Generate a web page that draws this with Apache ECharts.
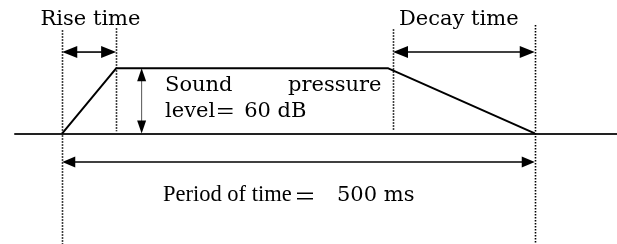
<!DOCTYPE html>
<html><head><meta charset="utf-8">
<script src="https://cdn.jsdelivr.net/npm/echarts@6/dist/echarts.min.js"></script>
<style>html,body{margin:0;padding:0;background:#fff}#c{width:617px;height:244px}</style>
</head><body><div id="c"></div>
<script>
// ---- data (time in ms, level in dB) ----
const envTime = [0, 57, 345, 500];
const envLevel = [0, 60, 60, 0];
const riseStart = 0, riseEnd = 57, decayStart = 350, periodEnd = 500;
const soundLevel = 60;
const levelArrowTime = 84;
// guide lines: [time, top level, bottom level]
const guideTimes = [riseStart, riseEnd, decayStart, periodEnd];
const guideTops = [95, 97, 96, 100];
const guideBottoms = [-102, 2, 2, -102];
// arrows: [t1, level1, t2, level2]
const arrowRise = [riseStart, 75, riseEnd, 75];
const arrowDecay = [decayStart, 75, periodEnd, 75];
const arrowPeriod = [riseStart, -26.4, periodEnd, -26.4];
const arrowLevel = [levelArrowTime, soundLevel, levelArrowTime, 0];

// ---- axis ranges ----
const timeMin = -50, timeMax = 587;
const levelMin = -102, levelMax = 123;

// ---- styles ----
const arrowStyles = [
  {headLen: 15, headWid: 12, width: 1.6, color: '#000'},
  {headLen: 15, headWid: 12, width: 1.6, color: '#000'},
  {headLen: 13, headWid: 11, width: 1.6, color: '#000'},
  {headLen: 13, headWid: 9, width: 1, color: '#555'}
];
const CENT = '"DejaVu Serif"';

const chart = echarts.init(document.getElementById('c'));

function guideItem(params, api) {
  const a = api.coord([api.value(0), api.value(1)]);
  const b = api.coord([api.value(0), api.value(2)]);
  const x = Math.round(a[0]) + 0.5;
  return {type: 'line', shape: {x1: x, y1: a[1], x2: x, y2: b[1]},
    style: {stroke: '#000', lineWidth: 1.6, lineDash: [1.5, 1.5]}};
}
function arrowItem(params, api) {
  const st = arrowStyles[params.dataIndex];
  const p1 = api.coord([api.value(0), api.value(1)]);
  const p2 = api.coord([api.value(2), api.value(3)]);
  const dx = p2[0] - p1[0], dy = p2[1] - p1[1];
  const len = Math.hypot(dx, dy);
  const ux = dx / len, uy = dy / len, nx = -uy, ny = ux;
  const hl = st.headLen, hw = st.headWid / 2;
  const head = (tip, d) => [
    [tip[0], tip[1]],
    [tip[0] - d * ux * hl + nx * hw, tip[1] - d * uy * hl + ny * hw],
    [tip[0] - d * ux * hl - nx * hw, tip[1] - d * uy * hl - ny * hw]
  ];
  return {type: 'group', children: [
    {type: 'line', shape: {x1: p1[0] + ux * hl * 0.8, y1: p1[1] + uy * hl * 0.8,
      x2: p2[0] - ux * hl * 0.8, y2: p2[1] - uy * hl * 0.8},
      style: {stroke: st.color, lineWidth: st.width}},
    {type: 'polygon', shape: {points: head(p2, 1)}, style: {fill: '#000'}},
    {type: 'polygon', shape: {points: head(p1, -1)}, style: {fill: '#000'}}
  ]};
}

chart.setOption({
  animation: false,
  backgroundColor: '#fff',
  grid: {left: 15, right: 0, top: 0, bottom: 0},
  xAxis: {type: 'value', min: timeMin, max: timeMax, splitLine: {show: false},
    axisTick: {show: false}, axisLabel: {show: false},
    axisLine: {show: true, onZero: true, lineStyle: {color: '#222', width: 2}}},
  yAxis: {type: 'value', min: levelMin, max: levelMax, show: false, splitLine: {show: false}},
  series: [
    {type: 'custom', renderItem: guideItem, clip: false, silent: true,
      data: guideTimes.map((t, i) => [t, guideTops[i], guideBottoms[i]]),
      encode: {x: 0, y: [1, 2]}},
    {type: 'line', data: envTime.map((t, i) => [t, envLevel[i]]), showSymbol: false,
      clip: false, lineStyle: {color: '#000', width: 2}, z: 3},
    {type: 'custom', renderItem: arrowItem, clip: false, silent: true,
      data: [arrowRise, arrowDecay, arrowPeriod, arrowLevel],
      encode: {x: [0, 2], y: [1, 3]}}
  ],
  graphic: [
    {type: 'text', x: 90.5, y: 19.5, style: {text: 'Rise time', font: '21px ' + CENT, fill: '#000', align: 'center', verticalAlign: 'middle'}},
    {type: 'text', x: 399, y: 20, style: {text: 'Decay time', font: '21px ' + CENT, fill: '#000', align: 'left', verticalAlign: 'middle'}},
    {type: 'text', x: 165, y: 72.5, style: {
      text: '{s|Sound}{p|pressure}\n{a|level}{b|＝}{a|60 dB}',
      align: 'left', verticalAlign: 'top', fill: '#000',
      rich: {
        s: {fontFamily: 'DejaVu Serif', fontSize: 21, width: 123, lineHeight: 26, fill: '#000'},
        p: {fontFamily: 'DejaVu Serif', fontSize: 21, lineHeight: 26, fill: '#000'},
        a: {fontFamily: 'DejaVu Serif', fontSize: 21, lineHeight: 26, fill: '#000'},
        b: {fontFamily: 'Noto Sans CJK JP', fontSize: 20, width: 29, lineHeight: 26, fill: '#000'}
      }}},
    {type: 'text', x: 163, y: 195.5, style: {
      text: '{a|Period of time}{b|＝}{c|500 ms}',
      align: 'left', verticalAlign: 'middle', fill: '#000',
      rich: {
        a: {fontFamily: 'Liberation Serif', fontSize: 22.5, width: 131, fill: '#000'},
        b: {fontFamily: 'Noto Sans CJK JP', fontSize: 22, width: 43, fill: '#000'},
        c: {fontFamily: 'DejaVu Serif', fontSize: 21, fill: '#000'}
      }}}
  ]
});
</script></body></html>
